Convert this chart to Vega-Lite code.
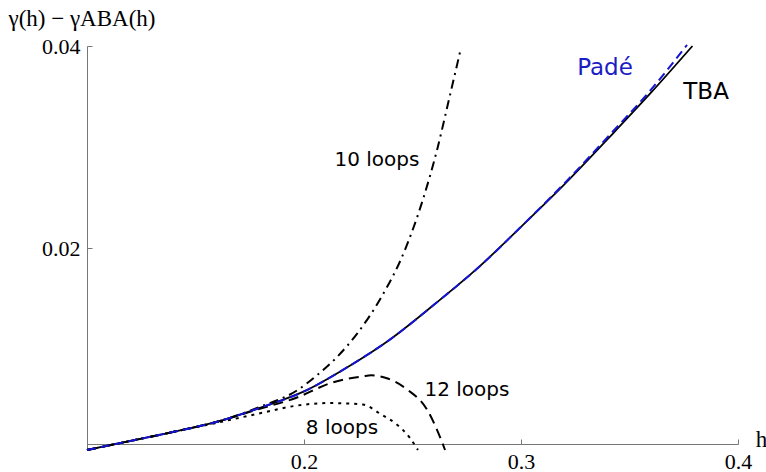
{
  "$schema": "https://vega.github.io/schema/vega-lite/v6.json",
  "width": 651,
  "height": 404,
  "autosize": {"type": "none"},
  "padding": {"left": 87, "top": 46, "right": 28, "bottom": 22},
  "background": "white",
  "config": {"view": {"stroke": null}},
  "datasets": {
    "curves": [
      {"series": "TBA", "h": 0.10, "v": 0},
      {"series": "TBA", "h": 0.12, "v": 0.0009},
      {"series": "TBA", "h": 0.14, "v": 0.0018},
      {"series": "TBA", "h": 0.16, "v": 0.0028},
      {"series": "TBA", "h": 0.18, "v": 0.0042},
      {"series": "TBA", "h": 0.20, "v": 0.0058},
      {"series": "TBA", "h": 0.22, "v": 0.0082},
      {"series": "TBA", "h": 0.24, "v": 0.0110},
      {"series": "TBA", "h": 0.26, "v": 0.0144},
      {"series": "TBA", "h": 0.28, "v": 0.0180},
      {"series": "TBA", "h": 0.30, "v": 0.0221},
      {"series": "TBA", "h": 0.32, "v": 0.0263},
      {"series": "TBA", "h": 0.34, "v": 0.0308},
      {"series": "TBA", "h": 0.36, "v": 0.0354},
      {"series": "TBA", "h": 0.379, "v": 0.0400},
      {"series": "Padé", "h": 0.10, "v": 0},
      {"series": "Padé", "h": 0.12, "v": 0.0009},
      {"series": "Padé", "h": 0.14, "v": 0.0018},
      {"series": "Padé", "h": 0.16, "v": 0.0028},
      {"series": "Padé", "h": 0.18, "v": 0.0042},
      {"series": "Padé", "h": 0.20, "v": 0.0058},
      {"series": "Padé", "h": 0.22, "v": 0.0082},
      {"series": "Padé", "h": 0.24, "v": 0.0110},
      {"series": "Padé", "h": 0.26, "v": 0.0144},
      {"series": "Padé", "h": 0.28, "v": 0.0180},
      {"series": "Padé", "h": 0.30, "v": 0.0221},
      {"series": "Padé", "h": 0.32, "v": 0.0264},
      {"series": "Padé", "h": 0.34, "v": 0.0310},
      {"series": "Padé", "h": 0.36, "v": 0.0357},
      {"series": "Padé", "h": 0.3765, "v": 0.0401},
      {"series": "10 loops", "h": 0.10, "v": 0},
      {"series": "10 loops", "h": 0.12, "v": 0.0009},
      {"series": "10 loops", "h": 0.14, "v": 0.0018},
      {"series": "10 loops", "h": 0.16, "v": 0.0028},
      {"series": "10 loops", "h": 0.18, "v": 0.0043},
      {"series": "10 loops", "h": 0.1968, "v": 0.0059},
      {"series": "10 loops", "h": 0.206, "v": 0.0074},
      {"series": "10 loops", "h": 0.2152, "v": 0.0092},
      {"series": "10 loops", "h": 0.2244, "v": 0.0115},
      {"series": "10 loops", "h": 0.235, "v": 0.0149},
      {"series": "10 loops", "h": 0.2465, "v": 0.0198},
      {"series": "10 loops", "h": 0.2548, "v": 0.0248},
      {"series": "10 loops", "h": 0.2613, "v": 0.0297},
      {"series": "10 loops", "h": 0.2668, "v": 0.0347},
      {"series": "10 loops", "h": 0.2719, "v": 0.0394},
      {"series": "12 loops", "h": 0.10, "v": 0},
      {"series": "12 loops", "h": 0.12, "v": 0.0009},
      {"series": "12 loops", "h": 0.14, "v": 0.0018},
      {"series": "12 loops", "h": 0.16, "v": 0.0028},
      {"series": "12 loops", "h": 0.18, "v": 0.0041},
      {"series": "12 loops", "h": 0.1968, "v": 0.0052},
      {"series": "12 loops", "h": 0.212, "v": 0.0066},
      {"series": "12 loops", "h": 0.2272, "v": 0.0073},
      {"series": "12 loops", "h": 0.231, "v": 0.0074},
      {"series": "12 loops", "h": 0.2382, "v": 0.0071},
      {"series": "12 loops", "h": 0.2475, "v": 0.0060},
      {"series": "12 loops", "h": 0.2567, "v": 0.0040},
      {"series": "12 loops", "h": 0.2613, "v": 0.0020},
      {"series": "12 loops", "h": 0.265, "v": 0.0},
      {"series": "8 loops", "h": 0.10, "v": 0},
      {"series": "8 loops", "h": 0.12, "v": 0.0009},
      {"series": "8 loops", "h": 0.14, "v": 0.0018},
      {"series": "8 loops", "h": 0.16, "v": 0.0027},
      {"series": "8 loops", "h": 0.1811, "v": 0.0037},
      {"series": "8 loops", "h": 0.1968, "v": 0.0044},
      {"series": "8 loops", "h": 0.212, "v": 0.00465},
      {"series": "8 loops", "h": 0.2272, "v": 0.0045},
      {"series": "8 loops", "h": 0.235, "v": 0.0036},
      {"series": "8 loops", "h": 0.2429, "v": 0.0025},
      {"series": "8 loops", "h": 0.2488, "v": 0.0012},
      {"series": "8 loops", "h": 0.2525, "v": 0.0}
    ],
    "labels": [
      {"label": "10 loops", "h": 0.2336, "v": 0.0287, "group": "loops"},
      {"label": "12 loops", "h": 0.2751, "v": 0.0059, "group": "loops"},
      {"label": "8 loops", "h": 0.2175, "v": 0.0022, "group": "loops"},
      {"label": "Padé", "h": 0.3387, "v": 0.0378, "group": "method"},
      {"label": "TBA", "h": 0.3853, "v": 0.0354, "group": "method"}
    ]
  },
  "encoding": {
    "x": {
      "field": "h", "type": "quantitative",
      "scale": {"domain": [0.1, 0.4], "nice": false, "zero": false},
      "axis": {
        "values": [0.2, 0.3, 0.4], "format": ".1f", "grid": false,
        "offset": -6, "domainColor": "#777777", "tickColor": "#777777",
        "tickSize": -5, "labelPadding": 22, "labelBaseline": "middle", "labelFlush": false,
        "labelFont": "Liberation Serif", "labelFontSize": 22, "labelColor": "black",
        "title": "h", "titleFont": "Liberation Serif", "titleFontSize": 23,
        "titleFontWeight": "normal", "titleColor": "black",
        "titleAnchor": "start", "titleAlign": "center", "titleX": 674, "titleY": 2,
        "titleBaseline": "alphabetic"
      }
    },
    "y": {
      "field": "v", "type": "quantitative",
      "scale": {"domain": [0, 0.04], "nice": false},
      "axis": {
        "values": [0.02, 0.04], "format": ".2f", "grid": false,
        "domainColor": "#777777", "tickColor": "#777777",
        "tickSize": -5, "labelPadding": 12, "labelFlush": false,
        "labelFont": "Liberation Serif", "labelFontSize": 22, "labelColor": "black",
        "title": "γ(h) − γABA(h)", "titleFont": "Liberation Serif", "titleFontSize": 23,
        "titleFontWeight": "normal", "titleColor": "black", "titleAngle": 0,
        "titleAlign": "left", "titleAnchor": "start", "titleX": -79, "titleY": -21,
        "titleBaseline": "alphabetic"
      }
    }
  },
  "layer": [
    {
      "data": {"name": "curves"},
      "transform": [{"filter": "datum.series === '8 loops'"}],
      "mark": {"type": "line", "color": "black", "strokeWidth": 2, "strokeDash": [3, 5], "interpolate": "monotone", "clip": false}
    },
    {
      "data": {"name": "curves"},
      "transform": [{"filter": "datum.series === '12 loops'"}],
      "mark": {"type": "line", "color": "black", "strokeWidth": 2, "strokeDash": [10, 6], "interpolate": "monotone", "clip": false}
    },
    {
      "data": {"name": "curves"},
      "transform": [{"filter": "datum.series === '10 loops'"}],
      "mark": {"type": "line", "color": "black", "strokeWidth": 2, "strokeDash": [9, 5, 2, 5], "interpolate": "monotone", "clip": false}
    },
    {
      "data": {"name": "curves"},
      "transform": [{"filter": "datum.series === 'TBA'"}],
      "mark": {"type": "line", "color": "black", "strokeWidth": 1.8, "interpolate": "monotone", "clip": false}
    },
    {
      "data": {"name": "curves"},
      "transform": [{"filter": "datum.series === 'Padé'"}],
      "mark": {"type": "line", "color": "#1414d2", "strokeWidth": 2, "strokeDash": [9, 5], "interpolate": "monotone", "clip": false}
    },
    {
      "data": {"name": "labels"},
      "transform": [{"filter": "datum.group === 'loops'"}],
      "mark": {"type": "text", "font": "DejaVu Sans", "fontSize": 20, "align": "center", "baseline": "middle", "color": "black"},
      "encoding": {"text": {"field": "label"}}
    },
    {
      "data": {"name": "labels"},
      "transform": [{"filter": "datum.group === 'method'"}],
      "mark": {"type": "text", "font": "DejaVu Sans", "fontSize": 23, "align": "center", "baseline": "middle"},
      "encoding": {
        "text": {"field": "label"},
        "color": {
          "field": "label", "type": "nominal",
          "scale": {"domain": ["Padé", "TBA"], "range": ["#1c1cc4", "black"]},
          "legend": null
        }
      }
    }
  ]
}
